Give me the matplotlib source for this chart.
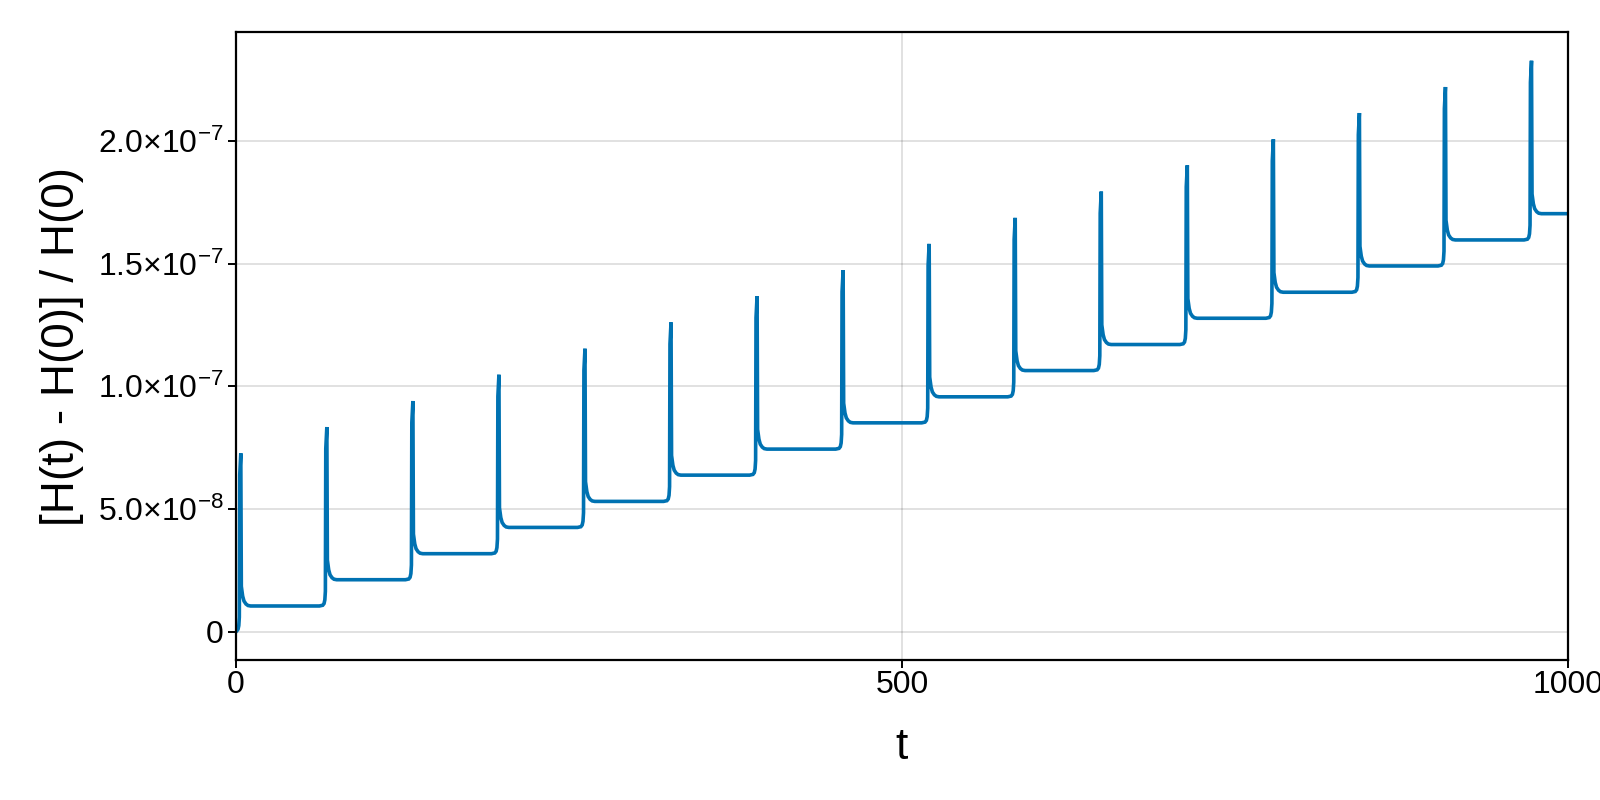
import matplotlib
matplotlib.use("Agg")
import matplotlib.pyplot as plt
from matplotlib.ticker import FixedLocator

plt.rcParams['font.family'] = ['Liberation Sans', 'DejaVu Sans']
plt.rcParams['mathtext.fontset'] = 'custom'
plt.rcParams['mathtext.rm'] = 'Liberation Sans'
plt.rcParams['mathtext.it'] = 'Liberation Sans:italic'

# spike times and levels (levels in units of 1e-9)
spike_t = [3.0, 67.6, 132.2, 196.8, 261.4, 326.0, 390.6, 455.2,
           519.8, 584.4, 649.0, 713.6, 778.2, 842.8, 907.4, 972.0]
peak = [72.7, 83.4, 94.0, 104.7, 115.3, 126.0, 136.7, 147.3,
        158.0, 168.6, 179.3, 190.0, 200.6, 211.3, 221.9, 232.6]
shoulder = [63.9, 74.6, 85.2, 95.9, 106.5, 117.2, 127.9, 138.5,
            149.2, 159.8, 170.5, 181.2, 191.8, 202.5, 213.1, 223.8]
plateau = [10.5, 21.2, 31.8, 42.5, 53.1, 63.8, 74.4, 85.1,
           95.7, 106.4, 117.0, 127.7, 138.3, 149.0, 159.6, 170.3]

ytick_vals = [0, 5e-8, 1e-7, 1.5e-7, 2e-7]
ytick_labels = ["0", r"5.0$\times$10$^{-8}$", r"1.0$\times$10$^{-7}$",
                r"1.5$\times$10$^{-7}$", r"2.0$\times$10$^{-7}$"]
xtick_vals = [0, 500, 1000]

# shape of one burst around a spike time
dt_shape = [-5, -2.5, -1.5, -0.9, -0.5, -0.2, 0.6, 1.0, 2.0, 3.0, 4.5, 6, 8]

t = [0.0]
y = [0.0]
prev = 0.0
for i, t0 in enumerate(spike_t):
    p, n, s, pk = prev, plateau[i], shoulder[i], peak[i]
    lv = [p, p + 0.3, p + 1.0, p + 2.5, p + 6, s, pk,
          n + 8, n + 4, n + 2, n + 0.8, n + 0.2, n]
    for d, v in zip(dt_shape, lv):
        if t0 + d > t[-1]:
            t.append(t0 + d)
            y.append(v * 1e-9)
    prev = n
t.append(1000.0)
y.append(prev * 1e-9)

fig = plt.figure(figsize=(16, 8), dpi=100)
ax = fig.add_axes([0.1475, 0.175, 0.8325, 0.785])
ax.plot(t, y, color='#0072B2', lw=2.6, solid_joinstyle='miter')

ax.set_xlim(0, 1000)
ax.set_ylim(-11.5e-9, 244.3e-9)
ax.xaxis.set_major_locator(FixedLocator(xtick_vals))
ax.set_xticklabels([str(v) for v in xtick_vals])
ax.yaxis.set_major_locator(FixedLocator(ytick_vals))
ax.set_yticklabels(ytick_labels)
ax.grid(True, color='black', alpha=0.12, lw=1.4)
ax.set_axisbelow(True)
for sp in ax.spines.values():
    sp.set_linewidth(1.6)
ax.tick_params(direction='out', length=6, width=1.4, labelsize=23, pad=3)
ax.tick_params(axis='x', pad=1)

ax.set_xlabel("t", fontsize=32, va='center')
ax.xaxis.set_label_coords(0.5, -0.14)
ax.set_ylabel("[H(t) - H(0)] / H(0)", fontsize=33, va='center')
ax.yaxis.set_label_coords(-0.131, 0.5)

fig.savefig("out.png", dpi=100)
